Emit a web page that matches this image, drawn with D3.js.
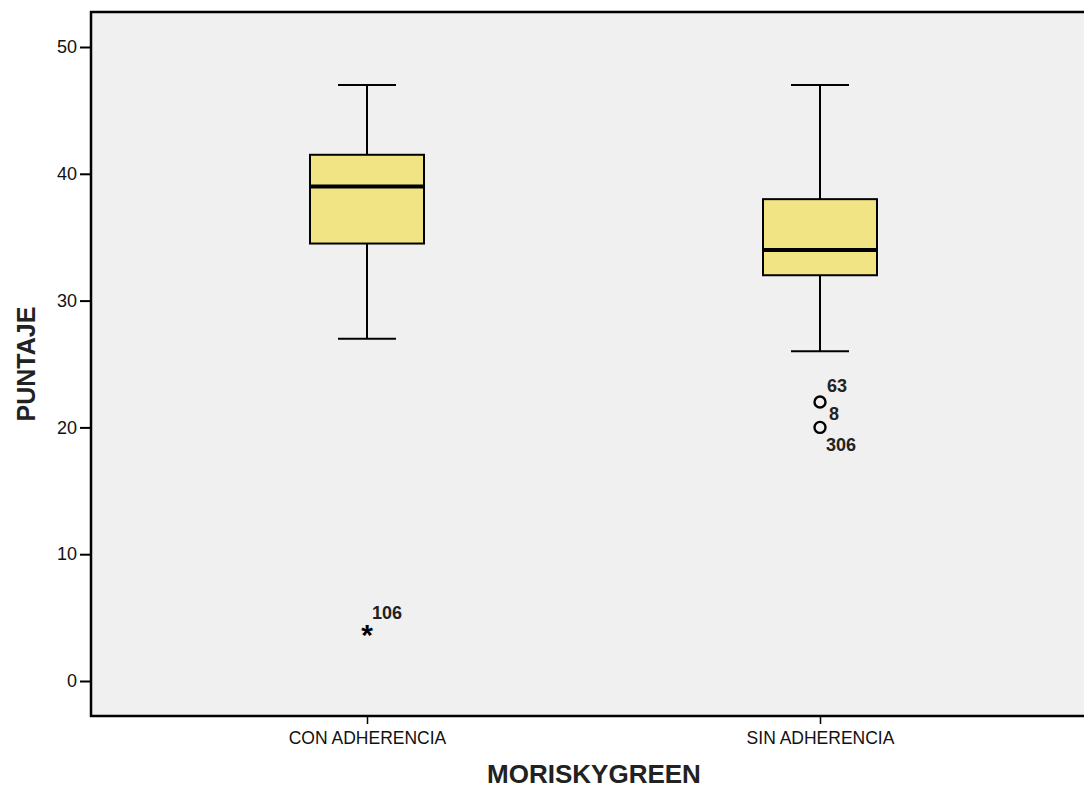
<!DOCTYPE html>
<html><head><meta charset="utf-8">
<script src="https://cdn.jsdelivr.net/npm/d3@7"></script>
<style>body{margin:0;background:#fff;} text{font-family:"Liberation Sans",Arial,sans-serif;}</style>
</head><body>
<svg id="c" width="1084" height="788"></svg>
<script>
const categories = ["CON ADHERENCIA", "SIN ADHERENCIA"];
const whiskerLow = [27, 26];
const q1 = [34.5, 32];
const median = [39, 34];
const q3 = [41.5, 38];
const whiskerHigh = [47, 47];
const outliers = [
  {cat: "CON ADHERENCIA", value: 4, label: "106", kind: "extreme"},
  {cat: "SIN ADHERENCIA", value: 22, label: "63", kind: "outlier"},
  {cat: "SIN ADHERENCIA", value: 20, label: "8", kind: "outlier"},
  {cat: "SIN ADHERENCIA", value: 20, label: "306", kind: "outlier"}
];
const yTicks = [0, 10, 20, 30, 40, 50];

const svg = d3.select("#c");
const pLeft = 91, pTop = 12, pBottom = 716, pRight = 1095;
const y = d3.scaleLinear().domain([0, 50]).range([681, 47]);
const x = d3.scalePoint().domain(categories).range([367, 820]);
const boxW = 114;

svg.append("rect").attr("x", pLeft).attr("y", pTop).attr("width", pRight-pLeft).attr("height", pBottom-pTop)
  .attr("fill", "#f0f0f0").attr("stroke", "#000").attr("stroke-width", 2.5);

const yAxis = svg.append("g").attr("transform", `translate(${pLeft},0)`)
  .call(d3.axisLeft(y).tickValues(yTicks).tickSize(11).tickPadding(3).tickFormat(d3.format("d")));
yAxis.select(".domain").remove();
yAxis.selectAll("line").attr("stroke", "#000").attr("stroke-width", 2);
yAxis.selectAll("text").attr("font-size", 18).attr("fill", "#111").style("font-family", "Liberation Sans, Arial, sans-serif");

const xAxis = svg.append("g").attr("transform", `translate(0,${pBottom})`)
  .call(d3.axisBottom(x).tickSize(8).tickPadding(8));
xAxis.select(".domain").remove();
xAxis.selectAll("line").attr("stroke", "#000").attr("stroke-width", 1.5);
xAxis.selectAll("text").attr("font-size", 17.5).attr("fill", "#111").style("font-family", "Liberation Sans, Arial, sans-serif");

categories.forEach((c, i) => {
  const cx = x(c);
  const g = svg.append("g");
  g.append("line").attr("x1", cx).attr("x2", cx).attr("y1", y(whiskerHigh[i])).attr("y2", y(q3[i])).attr("stroke", "#000").attr("stroke-width", 2);
  g.append("line").attr("x1", cx).attr("x2", cx).attr("y1", y(q1[i])).attr("y2", y(whiskerLow[i])).attr("stroke", "#000").attr("stroke-width", 2);
  g.append("line").attr("x1", cx - 29).attr("x2", cx + 29).attr("y1", y(whiskerHigh[i])).attr("y2", y(whiskerHigh[i])).attr("stroke", "#000").attr("stroke-width", 2);
  g.append("line").attr("x1", cx - 29).attr("x2", cx + 29).attr("y1", y(whiskerLow[i])).attr("y2", y(whiskerLow[i])).attr("stroke", "#000").attr("stroke-width", 2);
  g.append("rect").attr("x", cx - boxW/2).attr("y", y(q3[i])).attr("width", boxW).attr("height", y(q1[i]) - y(q3[i]))
    .attr("fill", "#f0e484").attr("stroke", "#000").attr("stroke-width", 2);
  g.append("line").attr("x1", cx - boxW/2).attr("x2", cx + boxW/2).attr("y1", y(median[i])).attr("y2", y(median[i])).attr("stroke", "#000").attr("stroke-width", 4);
});

const markerKeys = new Set();
outliers.forEach(o => {
  const key = o.cat + o.value;
  if (markerKeys.has(key)) return;
  markerKeys.add(key);
  const cx = x(o.cat), cy = y(o.value);
  if (o.kind === "extreme") {
    svg.append("text").attr("x", cx).attr("y", cy + 15).attr("text-anchor", "middle").attr("font-size", 30).attr("font-weight", "bold").text("*");
  } else {
    svg.append("circle").attr("cx", cx).attr("cy", cy).attr("r", 5.5).attr("fill", "none").attr("stroke", "#000").attr("stroke-width", 2.4);
  }
});
const labelOffsets = {"106": [5, -11], "63": [7, -10], "8": [9, -7], "306": [6, 24]};
outliers.forEach(o => {
  const cx = x(o.cat), cy = y(o.value);
  const off = labelOffsets[o.label];
  svg.append("text").attr("x", cx + off[0]).attr("y", cy + off[1]).attr("font-size", 18).attr("font-weight", "bold").attr("fill", "#222").text(o.label);
});

svg.append("text").attr("x", 594).attr("y", 783).attr("text-anchor", "middle").attr("font-size", 26).attr("font-weight", "bold").attr("fill", "#222").text("MORISKYGREEN");
svg.append("text").attr("transform", "translate(35,364) rotate(-90)").attr("text-anchor", "middle").attr("font-size", 25).attr("font-weight", "bold").attr("fill", "#222").text("PUNTAJE");
</script>
</body></html>
